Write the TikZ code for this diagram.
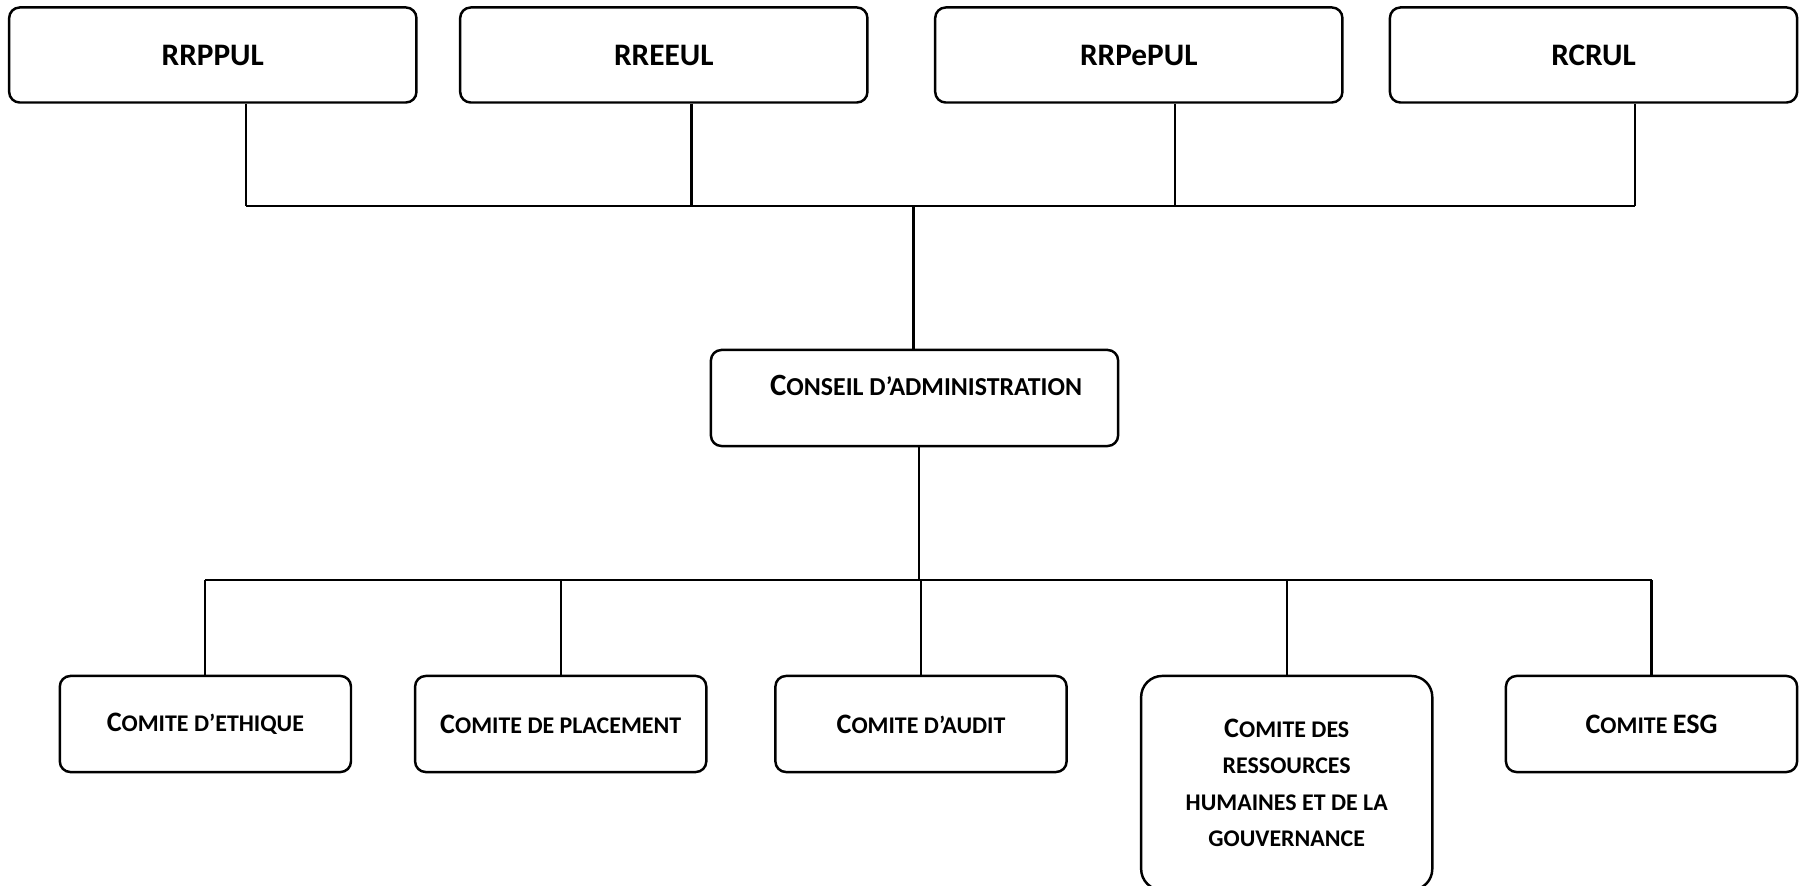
\documentclass[tikz,border=0pt]{standalone}
\usepackage{fontspec}
\setmainfont{Carlito}
\usepackage{tikz}

\newcommand{\initiale}[2]{{\fontsize{#1}{#1}\selectfont #2}}

\begin{document}
\begin{tikzpicture}[x=0.01cm, y=-0.01cm,
    boite/.style={draw, line width=0.7pt, rounded corners=3pt, align=center, inner sep=1pt},
    haute/.style={boite, minimum width=4.07cm, minimum height=0.95cm, font=\fontsize{8.9}{10}\selectfont\bfseries},
    comite/.style={boite, minimum width=2.91cm, minimum height=0.96cm, font=\fontsize{6.8}{10.4}\selectfont\bfseries},
    trait/.style={line width=0.6pt}]
        % Frame
        \useasboundingbox (0,0) rectangle (1804,886);

        % Top boxes
        \node[haute] (rrppul) at (212.8,55) {RRPPUL};
        \node[haute] (rreeul) at (663.8,55) {RREEUL};
        \node[haute] (rrpepul) at (1138.8,55) {RRPePUL};
        \node[haute] (rcrul) at (1593.5,55) {RCRUL};

        % Board
        \node[boite, minimum width=4.07cm, minimum height=0.96cm, text height=0.2cm, text depth=0.25cm,
              font=\fontsize{7.35}{10}\selectfont\bfseries] (ca) at (914.5,398)
              {\hspace*{0.23cm}\initiale{8.8}{C}ONSEIL D’ADMINISTRATION};

        % Committees
        \node[comite] (ethique) at (205.4,724) {\initiale{8}{C}OMITE D’ETHIQUE};
        \node[comite] (placement) at (560.7,724) {\initiale{8}{C}OMITE DE PLACEMENT};
        \node[comite] (audit) at (921,724) {\initiale{8}{C}OMITE D’AUDIT};
        \node[comite, minimum height=2.14cm, rounded corners=6pt] (rh) at (1286.7,783)
              {\initiale{8}{C}OMITE DES\\RESSOURCES\\HUMAINES ET DE LA\\GOUVERNANCE};
        \node[comite] (esg) at (1651.5,724) {\initiale{8}{C}OMITE \initiale{8}{ESG}};

        % Top bus
        \coordinate (h1) at (246,206);
        \coordinate (h2) at (691.5,206);
        \coordinate (h3) at (1174.7,206);
        \coordinate (h4) at (1634.9,206);
        \coordinate (hc) at (913.5,206);
        \draw[trait] (h1) -- (h4);
        \draw[trait] (rrppul.south -| h1) -- (h1);
        \draw[trait] (rreeul.south -| h2) -- (h2);
        \draw[trait] (rrpepul.south -| h3) -- (h3);
        \draw[trait] (rcrul.south -| h4) -- (h4);
        \draw[trait] (hc) -- (hc |- ca.north);

        % Bottom bus
        \coordinate (bc) at (919,580);
        \draw[trait] (ethique.north |- bc) -- (esg.north |- bc);
        \draw[trait] (ca.south -| bc) -- (bc);
        \foreach \n in {ethique, placement, audit, rh, esg}
            \draw[trait] (\n.north) -- (\n.north |- bc);

    \end{tikzpicture}
\end{document}
